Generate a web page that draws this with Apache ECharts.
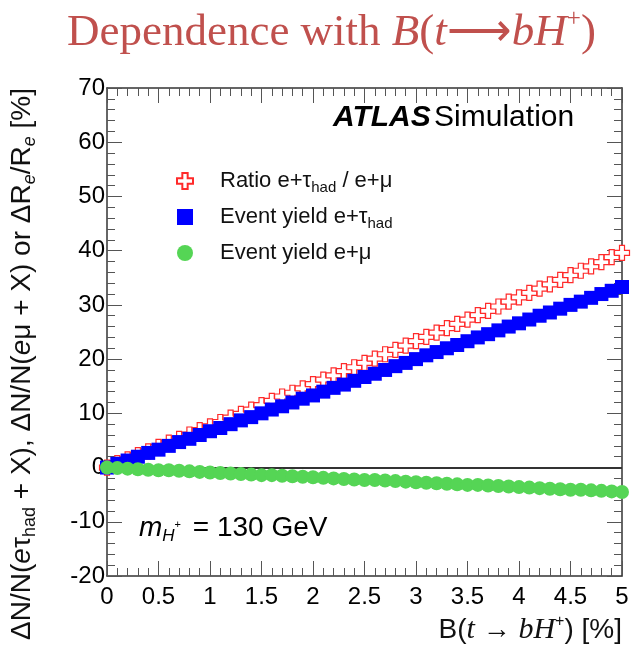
<!DOCTYPE html>
<html>
<head>
<meta charset="utf-8">
<script src="https://cdn.jsdelivr.net/npm/echarts@6/dist/echarts.min.js"></script>
<style>
  html, body { margin: 0; padding: 0; background: #fff; }
  #chart { width: 635px; height: 646px; }
</style>
</head>
<body>
<div id="chart"></div>
<script>
// Branching ratio B(t -> bH+) in %
const branching = [
  0.0, 0.1, 0.2, 0.3, 0.4, 0.5, 0.6, 0.7, 0.8, 0.9,
  1.0, 1.1, 1.2, 1.3, 1.4, 1.5, 1.6, 1.7, 1.8, 1.9,
  2.0, 2.1, 2.2, 2.3, 2.4, 2.5, 2.6, 2.7, 2.8, 2.9,
  3.0, 3.1, 3.2, 3.3, 3.4, 3.5, 3.6, 3.7, 3.8, 3.9,
  4.0, 4.1, 4.2, 4.3, 4.4, 4.5, 4.6, 4.7, 4.8, 4.9, 5.0
];
// Relative change of the ratio e+tau_had / e+mu [%]
const ratioTauMu = [
  0.0, 0.8, 1.5, 2.3, 3.0, 3.8, 4.6, 5.3, 6.1, 6.9,
  7.6, 8.4, 9.2, 9.9, 10.7, 11.5, 12.3, 13.1, 13.8, 14.6,
  15.4, 16.2, 17.0, 17.8, 18.5, 19.3, 20.1, 20.9, 21.7, 22.5,
  23.3, 24.1, 24.9, 25.7, 26.5, 27.3, 28.1, 28.9, 29.7, 30.6,
  31.4, 32.2, 33.0, 33.8, 34.6, 35.5, 36.3, 37.1, 37.9, 38.8, 39.6
];
// Relative change of the e+tau_had event yield [%]
const yieldTau = [
  0.0, 0.7, 1.3, 2.0, 2.7, 3.3, 4.0, 4.7, 5.3, 6.0,
  6.7, 7.3, 8.0, 8.7, 9.3, 10.0, 10.7, 11.3, 12.0, 12.7,
  13.3, 14.0, 14.7, 15.3, 16.0, 16.7, 17.3, 18.0, 18.7, 19.3,
  20.0, 20.7, 21.3, 22.0, 22.6, 23.3, 24.0, 24.6, 25.3, 26.0,
  26.6, 27.3, 28.0, 28.6, 29.3, 30.0, 30.6, 31.3, 32.0, 32.6, 33.3
];
// Relative change of the e+mu event yield [%]
const yieldMu = [
  0.0, -0.1, -0.2, -0.3, -0.4, -0.5, -0.5, -0.6, -0.7, -0.8,
  -0.9, -1.0, -1.1, -1.2, -1.3, -1.4, -1.4, -1.5, -1.6, -1.7,
  -1.8, -1.9, -2.0, -2.1, -2.2, -2.3, -2.3, -2.4, -2.5, -2.6,
  -2.7, -2.8, -2.9, -3.0, -3.1, -3.2, -3.2, -3.3, -3.4, -3.5,
  -3.6, -3.7, -3.8, -3.9, -4.0, -4.1, -4.1, -4.2, -4.3, -4.4, -4.5
];
const seriesNames = ['Ratio e+τhad / e+μ', 'Event yield e+τhad', 'Event yield e+μ'];

const pair = (ys) => branching.map((b, i) => [b, ys[i]]);

const SANS = '"Liberation Sans", Arial, Helvetica, sans-serif';
const SERIF = '"Liberation Serif", "Times New Roman", serif';
const FRAME = '#333';
const TICK = '#555';
const TITLE_RED = '#c0504d';

// Open cross marker outline
const crossPath = 'path://M1,0H2V1H3V2H2V3H1V2H0V1H1Z';

const chart = echarts.init(document.getElementById('chart'), null, { renderer: 'canvas' });

const baseX = {
  type: 'value', min: 0, max: 5, interval: 0.5,
  axisLine: { show: true, onZero: false, lineStyle: { color: FRAME, width: 1.5 } },
  axisTick: { show: true, inside: true, length: 15, lineStyle: { color: TICK, width: 1 } },
  minorTick: { show: true, splitNumber: 5, length: 8, lineStyle: { color: TICK, width: 1 } },
  splitLine: { show: false }
};
const baseY = {
  type: 'value', min: -20, max: 70, interval: 10,
  axisLine: { show: true, onZero: false, lineStyle: { color: FRAME, width: 1.5 } },
  axisTick: { show: true, inside: true, length: 15, lineStyle: { color: TICK, width: 1 } },
  minorTick: { show: true, splitNumber: 5, length: 8, lineStyle: { color: TICK, width: 1 } },
  splitLine: { show: false }
};

const legendRich = {
  n: { fontFamily: SANS, fontSize: 22, color: '#111', lineHeight: 28, verticalAlign: 'middle' },
  s: { fontFamily: SANS, fontSize: 15, color: '#111', lineHeight: 15, verticalAlign: 'bottom' }
};
const legendText = {
  'Ratio e+τhad / e+μ': '{n|Ratio e+τ}{s|had}{n| / e+μ}',
  'Event yield e+τhad': '{n|Event yield e+τ}{s|had}',
  'Event yield e+μ': '{n|Event yield e+μ}'
};

chart.setOption({
  animation: false,
  backgroundColor: '#fff',
  title: {
    text: '{n|Dependence with }{i|B}{n|(}{i|t}{n|⟶}{i|bH}{p|+}{n|)}',
    left: 62,
    top: 2,
    textStyle: {
      fontWeight: 'normal',
      rich: {
        n: { fontFamily: SERIF, fontWeight: 'normal', fontSize: 45, color: TITLE_RED, lineHeight: 52, verticalAlign: 'middle' },
        i: { fontFamily: SERIF, fontWeight: 'normal', fontStyle: 'italic', fontSize: 45, color: TITLE_RED, lineHeight: 52, verticalAlign: 'middle' },
        p: { fontFamily: SERIF, fontWeight: 'normal', fontSize: 25, color: TITLE_RED, lineHeight: 25, verticalAlign: 'top' }
      }
    }
  },
  grid: { left: 107, right: 13, top: 88, bottom: 70, containLabel: false, outerBoundsMode: 'none' },
  xAxis: [
    Object.assign({}, baseX, {
      position: 'bottom',
      axisLabel: { show: true, fontFamily: SANS, fontSize: 24, color: '#000', margin: 9,
        formatter: (v) => String(v) },
      name: '{n|B(}{i|t}{n| → }{i|bH}{p|+}{n|) [%]}',
      nameLocation: 'end',
      nameGap: 0,
      nameTextStyle: {
        align: 'right', verticalAlign: 'top', padding: [38, 0, 0, 0],
        rich: {
          n: { fontFamily: SANS, fontSize: 28, color: '#111', lineHeight: 32, verticalAlign: 'middle' },
          i: { fontFamily: SERIF, fontStyle: 'italic', fontSize: 30, color: '#111', lineHeight: 32, verticalAlign: 'middle' },
          p: { fontFamily: SANS, fontSize: 16, color: '#111', lineHeight: 16, verticalAlign: 'top' }
        }
      }
    }),
    Object.assign({}, baseX, { position: 'top', axisLabel: { show: false } })
  ],
  yAxis: [
    Object.assign({}, baseY, {
      position: 'left',
      axisLabel: { show: true, fontFamily: SANS, fontSize: 24, color: '#000', margin: 2 }
    }),
    Object.assign({}, baseY, { position: 'right', axisLabel: { show: false } })
  ],
  legend: {
    orient: 'vertical',
    left: 171,
    top: 165,
    itemWidth: 16,
    itemHeight: 16,
    itemGap: 11,
    data: seriesNames,
    formatter: (name) => legendText[name],
    textStyle: { padding: [0, 0, 0, 22], rich: legendRich },
    selectedMode: false
  },
  graphic: [
    {
      // vertical axis title
      type: 'text', x: 22, y: 364, rotation: Math.PI / 2,
      style: {
        text: '{n|ΔN/N(}{i|e}{n|τ}{s|had}{n| + X), ΔN/N(}{i|e}{n|μ + X) or ΔR}{si|e}{n|/R}{si|e}{n| [%]}',
        align: 'center', verticalAlign: 'middle',
        rich: {
          n: { fontFamily: SANS, fontSize: 28, fill: '#111', lineHeight: 34, verticalAlign: 'middle' },
          i: { fontFamily: SANS, fontStyle: 'italic', fontSize: 28, fill: '#111', lineHeight: 34, verticalAlign: 'middle' },
          s: { fontFamily: SANS, fontSize: 18, fill: '#111', lineHeight: 18, verticalAlign: 'bottom' },
          si: { fontFamily: SANS, fontStyle: 'italic', fontSize: 18, fill: '#111', lineHeight: 18, verticalAlign: 'bottom' }
        }
      }
    },
    {
      type: 'text', left: 333, top: 103,
      style: {
        text: '{b|ATLAS} {n|Simulation}',
        rich: {
          b: { fontFamily: SANS, fontWeight: 'bold', fontStyle: 'italic', fontSize: 30, fill: '#000' },
          n: { fontFamily: SANS, fontSize: 30, fill: '#000' }
        }
      }
    },
    {
      type: 'text', left: 139, top: 514,
      style: {
        text: '{m|m}{h|H}{p|+}{n| = 130 GeV}',
        rich: {
          m: { fontFamily: SANS, fontStyle: 'italic', fontSize: 28, fill: '#000', lineHeight: 34, verticalAlign: 'middle' },
          h: { fontFamily: SANS, fontStyle: 'italic', fontSize: 17, fill: '#000', lineHeight: 17, verticalAlign: 'bottom' },
          p: { fontFamily: SANS, fontSize: 11, fill: '#000', lineHeight: 34, verticalAlign: 'middle', padding: [0, 4, 7, 0] },
          n: { fontFamily: SANS, fontSize: 28, fill: '#000', lineHeight: 34, verticalAlign: 'middle' }
        }
      }
    }
  ],
  series: [
    {
      name: seriesNames[0],
      type: 'scatter',
      data: pair(ratioTauMu),
      symbol: crossPath,
      symbolSize: 15,
      itemStyle: { color: '#fff', borderColor: '#ff2a2a', borderWidth: 1.2, opacity: 1 },
      z: 2
    },
    {
      name: seriesNames[1],
      type: 'scatter',
      data: pair(yieldTau),
      symbol: 'rect',
      symbolSize: 14,
      itemStyle: { color: '#0000ff', opacity: 1 },
      z: 3
    },
    {
      name: seriesNames[2],
      type: 'scatter',
      data: pair(yieldMu),
      symbol: 'circle',
      symbolSize: 14,
      itemStyle: { color: '#55d555', opacity: 1 },
      z: 4,
      markLine: {
        silent: true,
        symbol: 'none',
        label: { show: false },
        lineStyle: { color: '#333', width: 2, type: 'solid' },
        data: [{ yAxis: 0 }],
        z: 1
      }
    }
  ]
});
</script>
</body>
</html>
